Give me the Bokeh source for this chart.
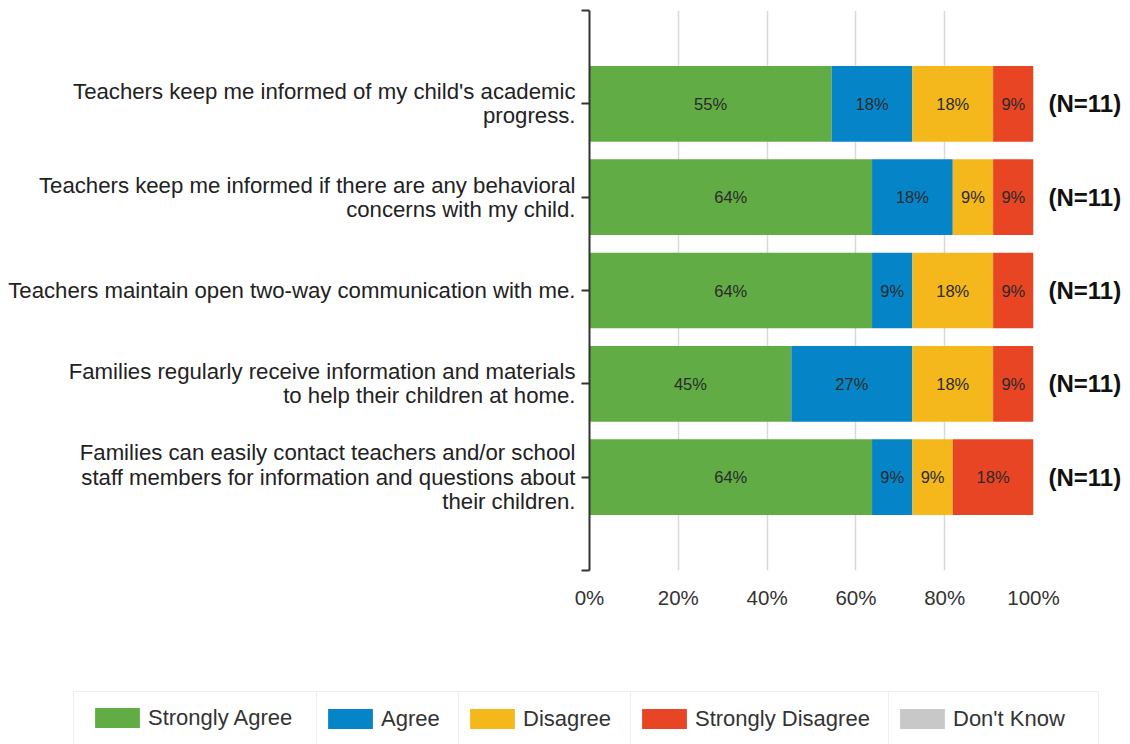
from bokeh.plotting import figure
from bokeh.models import ColumnDataSource, FixedTicker, Legend, LegendItem, Range1d, LinearAxis
from bokeh.core.properties import value
from bokeh.embed import file_html
from bokeh.resources import INLINE

# ---------------- data ----------------
questions = [
    "Teachers keep me informed of my child's academic\nprogress.",
    "Teachers keep me informed if there are any behavioral\nconcerns with my child.",
    "Teachers maintain open two-way communication with me.",
    "Families regularly receive information and materials\nto help their children at home.",
    "Families can easily contact teachers and/or school\nstaff members for information and questions about\ntheir children.",
]
n_responses = [11, 11, 11, 11, 11]
strongly_agree = [6, 7, 7, 5, 7]
agree = [2, 2, 1, 3, 1]
disagree = [2, 1, 2, 2, 1]
strongly_disagree = [1, 1, 1, 1, 2]
dont_know = [0, 0, 0, 0, 0]
series_names = ["Strongly Agree", "Agree", "Disagree", "Strongly Disagree", "Don't Know"]
series_colors = ["#62ac46", "#0585c8", "#f4b71c", "#e84524", "#c8c8c8"]
x_ticks = [0, 20, 40, 60, 80, 100]
x_tick_labels = ["0%", "20%", "40%", "60%", "80%", "100%"]

FONT = "Liberation Sans"
TXT = "#333333"

# ---------------- derived tables ----------------
ypos = list(range(1, len(questions) + 1))
counts = [strongly_agree, agree, disagree, strongly_disagree, dont_know]
keys = ["sa", "ag", "di", "sd", "dk"]
data = {"y": ypos}
for k, c in zip(keys, counts):
    data[k] = [100.0 * v / n for v, n in zip(c, n_responses)]
src = ColumnDataSource(data)

lab_x, lab_y, lab_t = [], [], []
for i, y in enumerate(ypos):
    left = 0.0
    for k in keys:
        w = data[k][i]
        if w > 0:
            lab_x.append(left + w / 2.0)
            lab_y.append(y)
            lab_t.append("%d%%" % round(w))
        left += w
lab_src = ColumnDataSource(dict(x=lab_x, y=lab_y, t=lab_t))

# ---------------- main figure ----------------
p = figure(width=1130, height=690, output_backend="svg", toolbar_location=None,
           x_range=Range1d(0, 100), y_range=Range1d(len(questions) + 1, 0),
           min_border_left=589, min_border_right=97, min_border_top=10, min_border_bottom=120,
           outline_line_color=None)
p.background_fill_color = "white"
p.border_fill_color = "white"

renderers = p.hbar_stack(keys, y="y", height=0.81, source=src,
                         color=series_colors, line_color=None)

p.text(x="x", y="y", text="t", source=lab_src, text_align="center", text_baseline="middle",
       text_font=value(FONT), text_font_size="16.5px", text_color="#2a2a2a")

# x axis
p.xaxis.ticker = FixedTicker(ticks=x_ticks)
p.xaxis.major_label_overrides = {t: l for t, l in zip(x_ticks, x_tick_labels)}
p.xaxis.axis_line_color = None
p.xaxis.major_tick_line_color = None
p.xaxis.minor_tick_line_color = None
p.xaxis.major_label_standoff = 9
p.xaxis.major_label_text_font = FONT
p.xaxis.major_label_text_font_size = "20.5px"
p.xaxis.major_label_text_color = TXT

# y axis (left, categories)
yax = p.yaxis[0]
yax.ticker = FixedTicker(ticks=[0] + ypos + [len(questions) + 1])
ov = {0: "", len(questions) + 1: ""}
for y, q in zip(ypos, questions):
    ov[y] = q
yax.major_label_overrides = ov
yax.axis_line_color = "#333333"
yax.axis_line_width = 2
yax.major_tick_line_color = "#333333"
yax.major_tick_line_width = 2
yax.major_tick_out = 8
yax.major_tick_in = 0
yax.minor_tick_line_color = None
yax.major_label_standoff = 6
yax.major_label_text_font = FONT
yax.major_label_text_font_size = "22.2px"
yax.major_label_text_color = "#222222"
yax.major_label_text_line_height = 0.97

# right axis (N labels)
rax = LinearAxis(ticker=FixedTicker(ticks=ypos))
rax.major_label_overrides = {y: "(N=%d)" % n for y, n in zip(ypos, n_responses)}
rax.axis_line_color = None
rax.major_tick_line_color = None
rax.minor_tick_line_color = None
rax.major_label_standoff = 9
rax.major_label_text_font = FONT
rax.major_label_text_font_style = "bold"
rax.major_label_text_font_size = "24px"
rax.major_label_text_color = "#111111"
p.add_layout(rax, "right")

# grid
p.xgrid.ticker = FixedTicker(ticks=x_ticks[1:])
p.xgrid.grid_line_color = "#d9d9d9"
p.xgrid.grid_line_width = 1.5
p.ygrid.grid_line_color = None

# ---------------- legend strip ----------------
lg_fig = figure(width=1130, height=54, output_backend="svg", toolbar_location=None,
                x_range=Range1d(0, 1), y_range=Range1d(0, 1),
                x_axis_location=None, y_axis_location=None,
                min_border=0, outline_line_color=None)
lg_fig.grid.grid_line_color = None
lg_fig.background_fill_color = "white"
lg_fig.border_fill_color = "white"

cell_left = [73, 316, 458, 630, 888]
cell_width = [243, 142, 172, 258, 209]
swatch_inset = [22, 11, 11, 11, 11]   # swatch start inside each cell
pad = 5
glyph_w, glyph_h = 56, 25          # area swatch is drawn at 80% of this box
standoff = 3
item_h = 43
cell_bottom = -2

common = dict(orientation="horizontal", padding=pad, spacing=0, margin=0,
              glyph_width=glyph_w, glyph_height=glyph_h, label_standoff=standoff,
              label_height=item_h, label_text_font=FONT, label_text_font_size="22px",
              label_text_color=TXT)

for name, col, cl, cw, ins in zip(series_names, series_colors, cell_left, cell_width, swatch_inset):
    # zero-width swatch carrier (nothing visible in the strip itself)
    dummy = lg_fig.hbar(y=[0.5], left=[0], right=[0], height=0.5, color=col, line_color=None)
    if ins > 11:
        # bordered empty cell behind, legend content shifted inside it
        shift = ins - 6
        blank = lg_fig.hbar(y=[0.5], left=[0], right=[0], height=0.5,
                            fill_alpha=0, line_color=None)
        frame_lg = Legend(items=[LegendItem(label=" ", renderers=[blank])], location=(cl, cell_bottom),
                          label_width=cw - 2 * pad - glyph_w - standoff,
                          border_line_color="#dddddd", border_line_width=1.5,
                          background_fill_color="white", background_fill_alpha=1.0, **common)
        lg_fig.add_layout(frame_lg, "center")
        lg = Legend(items=[LegendItem(label=name, renderers=[dummy])], location=(cl + shift, cell_bottom + 7),
                    label_width=cw - shift - 2 * pad - glyph_w - standoff - 8,
                    border_line_color=None, background_fill_alpha=0.0, **common)
    else:
        lg = Legend(items=[LegendItem(label=name, renderers=[dummy])], location=(cl, cell_bottom),
                    label_width=cw - 2 * pad - glyph_w - standoff,
                    border_line_color="#dddddd", border_line_width=1.5,
                    background_fill_color="white", background_fill_alpha=1.0, **common)
    lg_fig.add_layout(lg, "center")

open("out.html", "w").write(file_html([p, lg_fig], INLINE))
